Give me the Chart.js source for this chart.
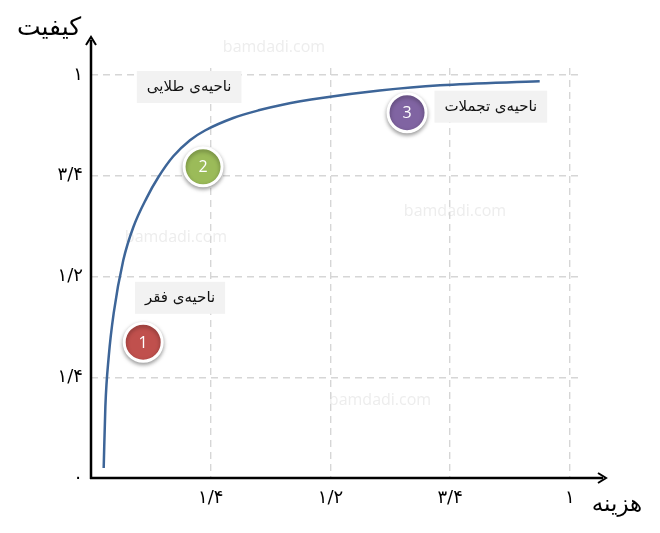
<!DOCTYPE html>
<html>
<head>
<meta charset="utf-8">
<script src="https://cdn.jsdelivr.net/npm/chart.js@4"></script>
<style>
  html, body { margin: 0; padding: 0; background: #fff; }
  #wrap { width: 660px; height: 533px; }
</style>
</head>
<body>
<div id="wrap"><canvas id="myChart" width="660" height="533"></canvas></div>
<script>
    "use strict";

    // curve (cost -> quality)
    const costValues = [0.0265, 0.03, 0.037, 0.0474, 0.0674, 0.0883, 0.1163, 0.1405, 0.1718, 0.2067, 0.238, 0.297, 0.35, 0.4, 0.485, 0.603, 0.729, 0.937];
    const qualityValues = [0.025, 0.177, 0.301, 0.409, 0.54, 0.622, 0.695, 0.746, 0.798, 0.838, 0.862, 0.893, 0.912, 0.926, 0.943, 0.961, 0.974, 0.984];

    // numbered markers
    const markerNumbers = ["1", "2", "3"];
    const markerCost = [0.109, 0.234, 0.66];
    const markerQuality = [0.337, 0.772, 0.906];
    const markerColors = ["#C0504D", "#9BBB59", "#8064A2"];

    // zone labels (anchored at their centre)
    const zoneNames = ["ناحیه‌ی فقر", "ناحیه‌ی طلایی", "ناحیه‌ی تجملات"];
    const zoneCost = [0.186, 0.205, 0.835];
    const zoneQuality = [0.447, 0.97, 0.921];

    const xTicks = [0.25, 0.5, 0.75, 1];
    const xTickLabels = ["۱/۴", "۱/۲", "۳/۴", "۱"];
    const yTicks = [0, 0.25, 0.5, 0.75, 1];
    const yTickLabels = ["۰", "۱/۴", "۱/۲", "۳/۴", "۱"];

    const xTitle = "هزینه";
    const yTitle = "کیفیت";
    const watermark = "bamdadi.com";

    const persianFont = "'DejaVu Sans', sans-serif";

    const gridStyle = {
        color: "#D6D6D6",
        lineWidth: 1.4,
        drawTicks: false,
    };

    const decorations = {
        id: "decorations",
        beforeDraw(chart) {
            const c = chart.ctx;
            c.save();
            c.fillStyle = "#fff";
            c.fillRect(0, 0, chart.width, chart.height);
            c.font = "16px 'Open Sans', sans-serif";
            c.fillStyle = "#EDEDED";
            c.textAlign = "center";
            c.textBaseline = "middle";
            [[274, 47], [176, 237], [455, 211], [380, 400]].forEach(([px, py]) => c.fillText(watermark, px, py));
            c.restore();
        },
        beforeDatasetDraw(chart, args) {
            if (args.index === 1) {
                const c = chart.ctx;
                c.save();
                c.shadowColor = "rgba(0,0,0,0.35)";
                c.shadowBlur = 4;
                c.shadowOffsetY = 2;
            }
        },
        afterDatasetDraw(chart, args) {
            if (args.index === 1) chart.ctx.restore();
        },
        afterDatasetsDraw(chart) {
            const c = chart.ctx;
            const xs = chart.scales.x;
            const ys = chart.scales.y;
            const x0 = xs.getPixelForValue(0);
            const y0 = ys.getPixelForValue(0);
            c.save();

            // axes with arrows
            c.strokeStyle = "#000";
            c.lineWidth = 2.5;
            c.beginPath();
            c.moveTo(x0, y0 + 1);
            c.lineTo(x0, 40);
            c.moveTo(x0 - 1, y0);
            c.lineTo(603, y0);
            c.stroke();
            c.lineWidth = 2;
            c.beginPath();
            c.moveTo(x0 - 5, 45);
            c.lineTo(x0, 37);
            c.lineTo(x0 + 5, 45);
            c.moveTo(598, y0 - 5);
            c.lineTo(606, y0);
            c.lineTo(598, y0 + 5);
            c.stroke();

            // marker numbers
            const meta = chart.getDatasetMeta(1);
            c.font = "16px 'Open Sans', sans-serif";
            c.fillStyle = "#fff";
            c.textAlign = "center";
            c.textBaseline = "middle";
            meta.data.forEach((pt, i) => c.fillText(markerNumbers[i], pt.x, pt.y + 1));

            // zone labels
            c.font = "15px " + persianFont;
            zoneNames.forEach((name, i) => {
                const px = xs.getPixelForValue(zoneCost[i]);
                const py = ys.getPixelForValue(zoneQuality[i]);
                const w = c.measureText(name).width + 20;
                c.fillStyle = "#F2F2F2";
                c.fillRect(px - w / 2, py - 16, w, 32);
                c.fillStyle = "#111";
                c.direction = "rtl";
                c.fillText(name, px, py);
                c.direction = "ltr";
            });

            // axis titles
            c.fillStyle = "#000";
            c.font = "25px " + persianFont;
            c.direction = "rtl";
            c.fillText(yTitle, 49, 28);
            c.font = "23px " + persianFont;
            c.fillText(xTitle, 617, 505);
            c.restore();
        },
    };

    const ctx = document.getElementById("myChart");

    const myChart = new Chart(ctx, {
        type: "scatter",
        data: {
            datasets: [
                {
                    data: costValues.map((v, i) => ({ x: v, y: qualityValues[i] })),
                    showLine: true,
                    borderColor: "#3D6598",
                    borderWidth: 2.5,
                    pointRadius: 0,
                    cubicInterpolationMode: "monotone",
                },
                {
                    data: markerCost.map((v, i) => ({ x: v, y: markerQuality[i] })),
                    backgroundColor: markerColors,
                    borderColor: "#fff",
                    borderWidth: 3,
                    pointRadius: 19,
                    pointHoverRadius: 19,
                },
            ],
        },
        options: {
            responsive: false,
            animation: false,
            layout: {
                padding: { left: 0, right: 82, top: 68, bottom: 0 },
            },
            plugins: {
                legend: { display: false },
                tooltip: { enabled: false },
            },
            scales: {
                x: {
                    type: "linear",
                    min: 0,
                    max: 1.017,
                    border: { display: false, dash: [7, 5] },
                    grid: gridStyle,
                    afterBuildTicks: (scale) => {
                        scale.ticks = xTicks.map((v) => ({ value: v }));
                    },
                    afterFit: (scale) => {
                        scale.height = 55;
                    },
                    ticks: {
                        padding: 10,
                        color: "#000",
                        font: { size: 18, family: persianFont },
                        callback: (v) => xTickLabels[xTicks.indexOf(v)],
                    },
                },
                y: {
                    type: "linear",
                    min: 0,
                    max: 1.017,
                    border: { display: false, dash: [7, 5] },
                    grid: gridStyle,
                    afterBuildTicks: (scale) => {
                        scale.ticks = yTicks.map((v) => ({ value: v }));
                    },
                    afterFit: (scale) => {
                        scale.width = 91;
                    },
                    ticks: {
                        padding: 8,
                        color: "#000",
                        font: { size: 18, family: persianFont },
                        callback: (v) => yTickLabels[yTicks.indexOf(v)],
                    },
                },
            },
        },
        plugins: [decorations],
    });
</script>
</body>
</html>
